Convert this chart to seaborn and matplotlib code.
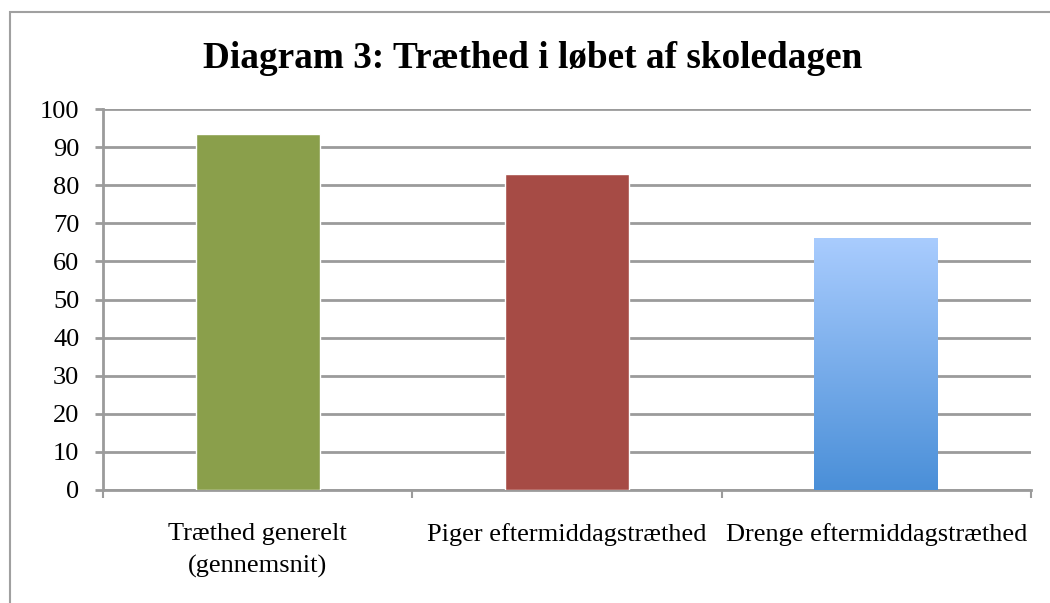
import matplotlib
matplotlib.use("Agg")
import matplotlib.pyplot as plt
import matplotlib.patches as mpatches
from matplotlib.colors import LinearSegmentedColormap
import numpy as np
import pandas as pd
import seaborn as sns

# data
categories = ["Træthed generelt\n(gennemsnit)", "Piger eftermiddagstræthed", "Drenge eftermiddagstræthed"]
values = [93.5, 83, 66]
y_ticks = list(range(0, 101, 10))
title = "Diagram 3: Træthed i løbet af skoledagen"

sns.set_theme(style="white")
plt.rcParams['font.family'] = ['Liberation Serif', 'DejaVu Serif']
plt.rcParams['text.color'] = 'black'
plt.rcParams['xtick.color'] = 'black'
plt.rcParams['ytick.color'] = 'black'

fig = plt.figure(figsize=(10.5, 6.03), dpi=100)
ax = fig.add_axes([103 / 1050, 1 - 490 / 603, 928 / 1050, 381 / 603])

df = pd.DataFrame({"kategori": categories, "vaerdi": values})
sns.barplot(data=df, x="kategori", y="vaerdi", ax=ax, width=0.4,
            palette=["#8A9F4B", "#A64B45", "#7FB2F0"], hue="kategori",
            legend=False, saturation=1, zorder=3)

grid_col = "#9b9b9b"
ax.set_ylim(0, 100)
ax.set_xlim(-0.5, 2.5)
ax.set_yticks(y_ticks)
ax.set_yticklabels([str(t) for t in y_ticks], fontsize=19)
ax.yaxis.grid(True, color=grid_col, linewidth=2, zorder=0)
ax.set_axisbelow(True)

# category ticks at the boundaries, labels centred under bars
ax.set_xticks([-0.5, 0.5, 1.5, 2.5], minor=False)
ax.set_xticklabels([])
ax.set_xticks([0, 1, 2], minor=True)
ax.set_xticklabels(categories, minor=True, fontsize=19, linespacing=1.55)
ax.tick_params(axis="x", which="major", direction="out", length=6, width=1.5,
               color=grid_col, bottom=True)
ax.tick_params(axis="x", which="minor", length=0, pad=24, labelcolor="black")
ax.tick_params(axis="y", direction="out", length=6, width=2, color=grid_col,
               left=True, pad=11, labelcolor="black")
ax.set_xlabel("")
ax.set_ylabel("")

for side in ["top", "right"]:
    ax.spines[side].set_visible(False)
for side in ["left", "bottom"]:
    ax.spines[side].set_color(grid_col)
    ax.spines[side].set_linewidth(2)

# gradient on the third bar
bar = ax.patches[2]
x0, w, h = bar.get_x(), bar.get_width(), bar.get_height()
cmap = LinearSegmentedColormap.from_list("blaa", ["#4A8FD8", "#A9CCFE"])
grad = np.linspace(0, 1, 256).reshape(-1, 1)
ax.imshow(grad, cmap=cmap, origin="lower", aspect="auto",
          extent=(x0, x0 + w, 0, h), zorder=3)
bar.set_alpha(0)
ax.set_xlim(-0.5, 2.5)
ax.set_ylim(0, 100)

fig.text(533 / 1050, 1 - 68 / 603, title, ha="center", va="baseline",
         fontsize=26.8, fontweight="bold", color="black")

# outer chart border (partly cropped)
fig.patches.append(mpatches.Rectangle((10 / 1050, -0.05), 1.1, 1 - 12 / 603 + 0.05,
                                      transform=fig.transFigure, fill=False,
                                      edgecolor="#a0a0a0", linewidth=1.5))

fig.savefig("out.png", dpi=100)
